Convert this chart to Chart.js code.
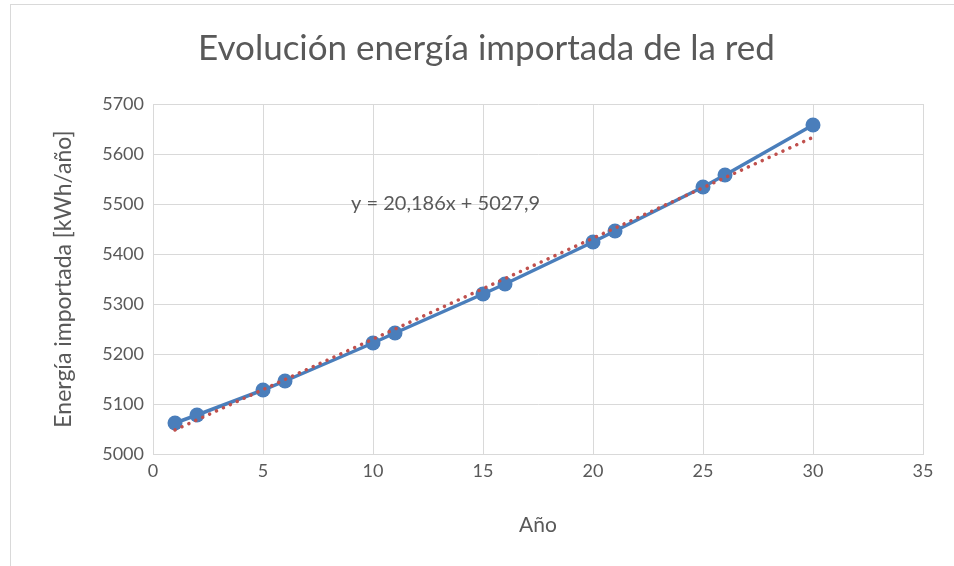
<!DOCTYPE html>
<html>
<head>
<meta charset="utf-8">
<script src="https://cdn.jsdelivr.net/npm/chart.js@4/dist/chart.umd.min.js"></script>
<style>
  html, body { margin: 0; padding: 0; background: #fff; }
  #wrap { width: 954px; height: 566px; position: relative; }
</style>
</head>
<body>
<div id="wrap"><canvas id="energyChart" width="954" height="566"></canvas></div>
<script>
// Data
const years = [1, 2, 5, 6, 10, 11, 15, 16, 20, 21, 25, 26, 30];
const energy = [5062, 5078, 5128, 5146, 5222, 5242, 5320, 5340, 5424, 5446, 5534, 5558, 5658];

// Linear trendline as printed on the chart: y = 20,186x + 5027,9
const trendSlope = 20.186;
const trendIntercept = 5027.9;
const trendLabel = 'y = 20,186x + 5027,9';

const xTicks = [0, 5, 10, 15, 20, 25, 30, 35];
const yTicks = [5000, 5100, 5200, 5300, 5400, 5500, 5600, 5700];

const textColor = '#595959';
const gridColor = '#D9D9D9';
const blue = '#4A7EBB';
const red = '#C0504D';
const fontFamily = 'Lato, "Open Sans", sans-serif';

const firstX = years[0];
const lastX = years[years.length - 1];
const trendPoints = [
    { x: firstX, y: trendIntercept + trendSlope * firstX },
    { x: lastX, y: trendIntercept + trendSlope * lastX }
];

// frame around the whole chart and the equation label
const extras = {
    id: 'extras',
    beforeDraw(chart) {
        const c = chart.ctx;
        c.save();
        c.fillStyle = '#fff';
        c.fillRect(0, 0, chart.width, chart.height);
        c.strokeStyle = gridColor;
        c.lineWidth = 1;
        c.strokeRect(10.5, 4.5, chart.width, chart.height + 10);
        c.restore();
    },
    afterDatasetsDraw(chart) {
        const c = chart.ctx;
        const xs = chart.scales.x, ys = chart.scales.y;
        c.save();
        c.font = '20px ' + fontFamily;
        c.fillStyle = textColor;
        c.textAlign = 'center';
        c.textBaseline = 'middle';
        c.fillText(trendLabel, xs.getPixelForValue(13.3), ys.getPixelForValue(5500));
        c.restore();
    }
};

const ctx = document.getElementById('energyChart').getContext('2d');
new Chart(ctx, {
    type: 'scatter',
    data: {
        datasets: [
            {
                label: 'Tendencia',
                data: trendPoints,
                showLine: true,
                borderColor: red,
                borderWidth: 3.5,
                borderDash: [0.1, 7.5],
                borderCapStyle: 'round',
                pointRadius: 0,
                order: 0
            },
            {
                label: 'Energía importada',
                data: years.map((x, i) => ({ x: x, y: energy[i] })),
                showLine: true,
                borderColor: blue,
                borderWidth: 3.5,
                backgroundColor: blue,
                pointRadius: 7.5,
                pointBorderWidth: 0,
                order: 1
            }
        ]
    },
    options: {
        responsive: false,
        animation: false,
        layout: { padding: { left: 50, right: 31, top: 0, bottom: 28 } },
        plugins: {
            legend: { display: false },
            tooltip: { enabled: false },
            title: {
                display: true,
                text: 'Evolución energía importada de la red',
                color: textColor,
                font: { family: fontFamily, size: 35, weight: 'normal' },
                padding: { top: 28, bottom: 34 }
            }
        },
        scales: {
            x: {
                type: 'linear',
                min: xTicks[0],
                max: xTicks[xTicks.length - 1],
                afterBuildTicks: s => { s.ticks = xTicks.map(v => ({ value: v })); },
                afterFit: s => { s.height = 84; },
                grid: { color: gridColor, lineWidth: 1, drawTicks: false },
                border: { color: gridColor },
                ticks: {
                    color: textColor,
                    padding: 6,
                    font: { family: fontFamily, size: 18 },
                    callback: v => String(v)
                },
                title: {
                    display: true,
                    text: 'Año',
                    color: textColor,
                    font: { family: fontFamily, size: 21 },
                    padding: { top: 12, bottom: 0 }
                }
            },
            y: {
                type: 'linear',
                min: yTicks[0],
                max: yTicks[yTicks.length - 1],
                afterBuildTicks: s => { s.ticks = yTicks.map(v => ({ value: v })); },
                afterFit: s => { s.width = 103; },
                grid: { color: gridColor, lineWidth: 1, drawTicks: false },
                border: { color: gridColor },
                ticks: {
                    color: textColor,
                    padding: 9,
                    font: { family: fontFamily, size: 18 },
                    callback: v => String(v)
                },
                title: {
                    display: true,
                    text: 'Energía importada [kWh/año]',
                    color: textColor,
                    font: { family: fontFamily, size: 23 },
                    padding: 0
                }
            }
        }
    },
    plugins: [extras]
});
</script>
</body>
</html>
